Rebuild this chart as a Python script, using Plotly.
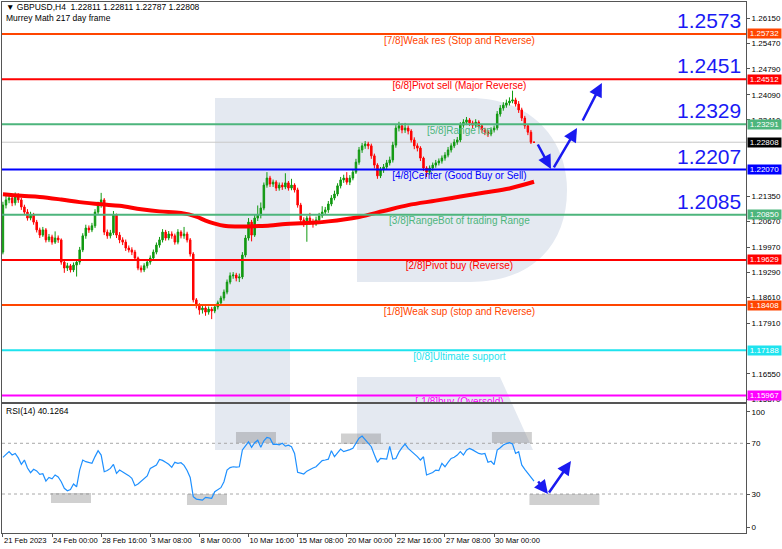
import plotly.graph_objects as go

# ---------------- data ----------------
title_text = "▼ GBPUSD,H4  1.22811 1.22811 1.22787 1.22808"
indicator_text = "Murrey Math 217 day frame"
rsi_title = "RSI(14) 40.1264"

x_tick_idx = [0, 16, 32, 48, 64, 80, 96, 112, 128, 144, 160]
x_tick_labels = ["21 Feb 2023", "24 Feb 00:00", "28 Feb 16:00", "3 Mar 08:00", "8 Mar 00:00",
                 "10 Mar 16:00", "15 Mar 08:00", "20 Mar 00:00", "22 Mar 16:00", "27 Mar 08:00",
                 "30 Mar 00:00"]

price_ticks = [1.26150, 1.25470, 1.24790, 1.24090, 1.23410, 1.21350, 1.20670, 1.19970,
               1.19290, 1.18610, 1.17910, 1.16550, 1.15870]
rsi_tick_vals = [94.7, 70, 30, 3.9]
rsi_tick_text = ["100", "70", "30", "0"]

open_ = [
1.1984,1.2111,1.2125,1.2130,1.2117,1.2136,1.2125,1.2106,1.2092,1.2076,
1.2084,1.2065,1.2044,1.2030,1.2044,1.2017,1.2025,1.2011,1.2022,1.2017,
1.1957,1.1941,1.1947,1.1936,1.1949,1.1957,1.1990,1.2028,1.2049,1.2044,
1.2055,1.2092,1.2111,1.2125,1.2038,1.2028,1.2036,1.2084,1.2030,1.2017,
1.2011,1.1995,1.1990,1.1984,1.1968,1.1941,1.1936,1.1947,1.1957,1.1968,
1.1984,1.2003,1.2017,1.2038,1.2022,1.2033,1.2028,1.2011,1.2038,1.2028,
1.2033,1.2017,1.1979,1.1855,1.1841,1.1828,1.1833,1.1822,1.1830,1.1825,
1.1836,1.1847,1.1860,1.1876,1.1903,1.1920,1.1922,1.1914,1.1917,1.1976,
1.2022,1.2065,1.2030,1.2076,1.2084,1.2103,1.2165,1.2184,1.2168,1.2173,
1.2157,1.2165,1.2160,1.2171,1.2157,1.2165,1.2152,1.2111,1.2071,1.2060,
1.2076,1.2065,1.2060,1.2071,1.2082,1.2092,1.2098,1.2114,1.2130,1.2141,
1.2163,1.2179,1.2184,1.2173,1.2184,1.2200,1.2227,1.2260,1.2271,1.2276,
1.2271,1.2244,1.2219,1.2190,1.2206,1.2214,1.2225,1.2233,1.2273,1.2319,
1.2325,1.2314,1.2319,1.2311,1.2287,1.2271,1.2265,1.2238,1.2211,1.2200,
1.2211,1.2219,1.2225,1.2230,1.2238,1.2246,1.2260,1.2271,1.2281,1.2287,
1.2327,1.2335,1.2341,1.2333,1.2327,1.2335,1.2325,1.2314,1.2308,1.2303,
1.2314,1.2319,1.2357,1.2373,1.2381,1.2387,1.2392,1.2395,1.2384,1.2368,
1.2346,1.2325,1.2308,1.22811]

high = [
1.2120,1.2138,1.2142,1.2139,1.2145,1.2143,1.2131,1.2112,1.2100,1.2093,
1.2090,1.2071,1.2050,1.2052,1.2049,1.2033,1.2031,1.2040,1.2029,1.2021,
1.1963,1.1955,1.1952,1.1956,1.1963,1.1998,1.2035,1.2058,1.2056,1.2063,
1.2100,1.2120,1.2144,1.2130,1.2045,1.2044,1.2095,1.2088,1.2038,1.2024,
1.2018,1.2002,1.1997,1.1990,1.1972,1.1948,1.1954,1.1964,1.1975,1.1991,
1.2010,1.2025,1.2046,1.2044,1.2041,1.2040,1.2034,1.2046,1.2043,1.2052,
1.2039,1.2022,1.1984,1.1860,1.1846,1.1840,1.1838,1.1837,1.1836,1.1843,
1.1853,1.1866,1.1883,1.1910,1.1929,1.1930,1.1928,1.1926,1.1984,1.2030,
1.2076,1.2071,1.2085,1.2110,1.2118,1.2172,1.2200,1.2190,1.2180,1.2178,
1.2172,1.2172,1.2197,1.2176,1.2182,1.2170,1.2158,1.2117,1.2078,1.2082,
1.2090,1.2074,1.2080,1.2090,1.2108,1.2106,1.2122,1.2138,1.2150,1.2170,
1.2187,1.2193,1.2200,1.2192,1.2208,1.2236,1.2268,1.2279,1.2284,1.2282,
1.2277,1.2250,1.2224,1.2214,1.2222,1.2233,1.2242,1.2282,1.2327,1.2336,
1.2332,1.2333,1.2326,1.2316,1.2294,1.2278,1.2270,1.2242,1.2216,1.2218,
1.2226,1.2233,1.2237,1.2245,1.2254,1.2268,1.2278,1.2289,1.2295,1.2335,
1.2343,1.2349,1.2346,1.2339,1.2343,1.2340,1.2330,1.2320,1.2314,1.2321,
1.2326,1.2365,1.2381,1.2389,1.2396,1.2402,1.2420,1.2401,1.2392,1.2374,
1.2352,1.2330,1.2314,1.22811]

low = [
1.1978,1.2102,1.2116,1.2108,1.2110,1.2117,1.2098,1.2084,1.2069,1.2070,
1.2058,1.2037,1.2022,1.2025,1.2010,1.2011,1.2004,1.2006,1.2009,1.1950,
1.1928,1.1933,1.1929,1.1930,1.1918,1.1950,1.1984,1.2020,1.2036,1.2038,
1.2049,1.2085,1.2104,1.2030,1.2020,1.2021,1.2030,1.2022,1.2008,1.2003,
1.1987,1.1983,1.1976,1.1960,1.1935,1.1929,1.1930,1.1940,1.1950,1.1962,
1.1978,1.1996,1.2010,1.2015,1.2016,1.2020,1.2004,1.2005,1.2021,1.2020,
1.2010,1.1972,1.1848,1.1832,1.1815,1.1818,1.1812,1.1815,1.1803,1.1819,
1.1829,1.1840,1.1853,1.1870,1.1897,1.1912,1.1905,1.1903,1.1911,1.1970,
1.2015,1.2013,1.2025,1.2068,1.2075,1.2097,1.2158,1.2160,1.2160,1.2149,
1.2150,1.2152,1.2154,1.2150,1.2151,1.2145,1.2104,1.2063,1.2052,1.2012,
1.2058,1.2050,1.2055,1.2064,1.2076,1.2086,1.2090,1.2108,1.2124,1.2135,
1.2156,1.2171,1.2166,1.2165,1.2178,1.2195,1.2220,1.2252,1.2263,1.2262,
1.2236,1.2210,1.2182,1.2184,1.2198,1.2207,1.2218,1.2226,1.2266,1.2310,
1.2305,1.2306,1.2302,1.2280,1.2262,1.2256,1.2230,1.2203,1.2187,1.2193,
1.2204,1.2212,1.2218,1.2223,1.2231,1.2240,1.2253,1.2265,1.2274,1.2281,
1.2320,1.2327,1.2325,1.2318,1.2320,1.2318,1.2306,1.2300,1.2295,1.2297,
1.2307,1.2313,1.2350,1.2366,1.2374,1.2380,1.2386,1.2377,1.2360,1.2338,
1.2317,1.2300,1.2276,1.22787]

close = [
1.2111,1.2125,1.2130,1.2117,1.2136,1.2125,1.2106,1.2092,1.2076,1.2084,
1.2065,1.2044,1.2030,1.2044,1.2017,1.2025,1.2011,1.2022,1.2017,1.1957,
1.1941,1.1947,1.1936,1.1949,1.1957,1.1990,1.2028,1.2049,1.2044,1.2055,
1.2092,1.2111,1.2125,1.2038,1.2028,1.2036,1.2084,1.2030,1.2017,1.2011,
1.1995,1.1990,1.1984,1.1968,1.1941,1.1936,1.1947,1.1957,1.1968,1.1984,
1.2003,1.2017,1.2038,1.2022,1.2033,1.2028,1.2011,1.2038,1.2028,1.2033,
1.2017,1.1979,1.1855,1.1841,1.1828,1.1833,1.1822,1.1830,1.1825,1.1836,
1.1847,1.1860,1.1876,1.1903,1.1920,1.1922,1.1914,1.1917,1.1976,1.2022,
1.2065,1.2030,1.2076,1.2084,1.2103,1.2165,1.2184,1.2168,1.2173,1.2157,
1.2165,1.2160,1.2171,1.2157,1.2165,1.2152,1.2111,1.2071,1.2060,1.2076,
1.2065,1.2060,1.2071,1.2082,1.2092,1.2098,1.2114,1.2130,1.2141,1.2163,
1.2179,1.2184,1.2173,1.2184,1.2200,1.2227,1.2260,1.2271,1.2276,1.2271,
1.2244,1.2219,1.2190,1.2206,1.2214,1.2225,1.2233,1.2273,1.2319,1.2325,
1.2314,1.2319,1.2311,1.2287,1.2271,1.2265,1.2238,1.2211,1.2200,1.2211,
1.2219,1.2225,1.2230,1.2238,1.2246,1.2260,1.2271,1.2281,1.2287,1.2327,
1.2335,1.2341,1.2333,1.2327,1.2335,1.2325,1.2314,1.2308,1.2303,1.2314,
1.2319,1.2357,1.2373,1.2381,1.2387,1.2392,1.2395,1.2384,1.2368,1.2346,
1.2325,1.2308,1.2281,1.22808]

ma_idx = [0, 6, 12, 19, 25, 32, 38, 45, 51, 58, 63, 66, 69, 72, 76, 79, 82, 87, 92, 97,
          102, 106, 111, 116, 124, 132, 141, 149, 157, 165, 173]
ma_val = [1.2140, 1.2136, 1.2133, 1.2126, 1.2119, 1.2113, 1.2109, 1.2100, 1.2094, 1.2090,
          1.2080, 1.2069, 1.2061, 1.2055, 1.2053, 1.2053, 1.2054, 1.2056, 1.2060, 1.2062,
          1.2064, 1.2067, 1.2072, 1.2079, 1.2095, 1.2111, 1.2123, 1.2134, 1.2145, 1.2156,
          1.2174]

rsi = [
58.9,61.5,63.4,60.8,62.0,58.5,53.4,56.8,50.5,46.8,
49.5,48.2,45.5,46.0,40.2,43.1,42.0,45.0,43.5,39.7,
34.5,32.6,33.5,37.9,35.7,48.9,56.8,55.5,54.8,54.2,
59.5,64.2,60.7,47.6,48.5,50.2,53.4,46.3,48.9,47.5,
46.3,44.5,42.4,36.5,37.9,40.0,42.4,44.2,50.2,51.5,
52.9,57.3,56.5,55.0,53.5,51.0,55.0,54.2,54.7,52.6,
48.5,43.1,27.9,26.0,25.5,25.2,27.4,26.8,26.6,31.8,
33.1,35.0,39.7,48.9,50.8,51.5,51.2,51.5,64.7,68.5,
71.2,66.8,70.5,72.4,66.8,72.0,74.7,74.0,69.2,69.4,
68.8,70.0,67.8,68.5,67.3,62.0,47.1,46.5,45.8,48.0,
49.5,50.5,51.5,54.0,56.3,56.8,57.5,64.2,59.4,62.5,
65.5,63.4,64.0,65.0,66.0,70.5,74.0,75.7,72.6,70.0,
67.3,61.0,55.0,58.1,57.8,57.5,67.6,57.5,58.0,63.0,
66.5,69.4,66.0,64.0,62.0,59.5,56.8,59.4,45.0,45.8,
47.0,48.9,48.5,54.2,51.5,55.0,58.1,59.0,60.7,63.4,
60.7,64.5,66.0,64.8,63.4,62.0,61.5,62.0,55.0,55.8,
53.1,64.7,66.5,68.6,69.8,70.5,69.4,62.0,63.4,52.9,
49.5,46.3,43.0,40.13]

levels = [1.25732, 1.24512, 1.23291, 1.22070, 1.20850, 1.19629, 1.18408, 1.17188, 1.15967]
level_labels = ["[7/8]Weak res (Stop and Reverse)", "[6/8]Pivot sell (Major Reverse)",
                "[5/8]RangeTop", "[4/8]Center (Good Buy or Sell)",
                "[3/8]RangeBot of trading Range", "[2/8]Pivot buy (Reverse)",
                "[1/8]Weak sup (stop and Reverse)", "[0/8]Ultimate support",
                "[-1/8]buy (Oversold)"]
level_colors = ["#FF4500", "#FF0000", "#4DB57C", "#0000FF", "#4DB57C", "#FF0000",
                "#FF4500", "#1EE3EE", "#FF00FF"]
big_levels = [1.2573, 1.2451, 1.2329, 1.2207, 1.2085]
current_price = 1.22808

# forecast arrows (bar index / price) and RSI arrows (bar index / RSI value)
arrow_from_idx = [173.97, 179.18, 188.6]
arrow_from_px = [1.22788, 1.22086, 1.23355]
arrow_to_idx = [178.53, 187.0, 195.1]
arrow_to_px = [1.22086, 1.23193, 1.24408]
rsi_arrow_from_idx = [173.97, 177.55]
rsi_arrow_from_val = [41.0, 30.0]
rsi_arrow_to_idx = [177.55, 185.04]
rsi_arrow_to_val = [30.0, 56.0]

# highlight boxes on RSI (bar index range, RSI range)
box_x0 = [15.66, 59.96, 75.92, 110.12, 159.3, 171.5]
box_x1 = [28.69, 72.99, 88.95, 123.15, 172.3, 194.3]
box_y0 = [22.9, 21.3, 70.2, 69.4, 70.2, 21.3]
box_y1 = [30.8, 30.0, 78.9, 77.7, 78.9, 30.0]

# ---------------- figure ----------------
W, H = 782, 549
ML, MR, MT, MB = 2, 36, 2, 16
PW = W - ML - MR
PH = H - MT - MB
FONT = "Liberation Sans, Arial, sans-serif"


def pxx(x):
    return (x - ML) / PW


def pxy(y):
    return (H - MB - y) / PH


n = len(close)
idx = list(range(n))
fig = go.Figure()

# level captions (drawn first so candles overlay them)
fig.add_trace(go.Scatter(
    x=[148.7] * len(levels), y=[lv - 0.0019 for lv in levels], mode="text",
    text=level_labels, textposition="middle center",
    textfont=dict(color=level_colors, size=10, family=FONT),
    xaxis="x", yaxis="y", hoverinfo="skip", showlegend=False, cliponaxis=True))

fig.add_trace(go.Candlestick(
    x=idx, open=open_, high=high, low=low, close=close,
    increasing=dict(line=dict(color="#119911", width=1), fillcolor="#119911"),
    decreasing=dict(line=dict(color="#FF0000", width=1), fillcolor="#FF0000"),
    whiskerwidth=0, xaxis="x", yaxis="y", showlegend=False, hoverinfo="skip"))

fig.add_trace(go.Scatter(
    x=ma_idx, y=ma_val, mode="lines", line=dict(color="#FF0000", width=4, shape="spline"),
    xaxis="x", yaxis="y", showlegend=False, hoverinfo="skip"))

fig.add_trace(go.Scatter(
    x=idx, y=rsi, mode="lines", line=dict(color="#1E90FF", width=1.2),
    xaxis="x2", yaxis="y2", showlegend=False, hoverinfo="skip"))

shapes = []
# watermark "R" (pixel geometry converted to paper)
wm = "#E4E9F1"
shapes.append(dict(type="rect", xref="paper", yref="paper", x0=pxx(215), x1=pxx(290),
                   y0=pxy(450), y1=pxy(98), fillcolor=wm, line=dict(width=0), layer="below"))
shapes.append(dict(type="rect", xref="paper", yref="paper", x0=pxx(289), x1=pxx(358),
                   y0=pxy(170), y1=pxy(98), fillcolor=wm, line=dict(width=0), layer="below"))


def P(x, y):
    return f"{pxx(x):.5f},{pxy(y):.5f}"


bowl = (f"M {P(357,98)} L {P(470,98)} C {P(532,98)} {P(567,140)} {P(567,190)} "
        f"C {P(567,245)} {P(532,282)} {P(470,282)} L {P(357,282)} Z")
leg = f"M {P(357,377)} L {P(500,377)} L {P(533,450)} L {P(357,450)} Z"
for pth in (bowl, leg):
    shapes.append(dict(type="path", xref="paper", yref="paper", path=pth, fillcolor=wm,
                       line=dict(width=0), layer="below"))

for a0, a1, b0, b1 in zip(box_x0, box_x1, box_y0, box_y1):
    shapes.append(dict(type="rect", xref="x2", yref="y2", x0=a0, x1=a1, y0=b0, y1=b1,
                       fillcolor="rgba(120,120,120,0.35)", line=dict(width=0), layer="below"))

for v in (70, 30):
    shapes.append(dict(type="line", xref="x2 domain", yref="y2", x0=0, x1=1, y0=v, y1=v,
                       line=dict(color="#A8A8A8", width=1, dash="dot"), layer="below"))

shapes.append(dict(type="line", xref="x domain", yref="y", x0=0, x1=1, y0=current_price,
                   y1=current_price, line=dict(color="#C8C8C8", width=1), layer="below"))
for lv, col in zip(levels, level_colors):
    shapes.append(dict(type="line", xref="x domain", yref="y", x0=0, x1=1, y0=lv, y1=lv,
                       line=dict(color=col, width=2), layer="above"))

annotations = []
annotations.append(dict(xref="paper", yref="paper", x=pxx(4), y=pxy(7), xanchor="left",
                        yanchor="middle", text=title_text, showarrow=False,
                        font=dict(size=8.5, color="#000000", family=FONT)))
annotations.append(dict(xref="paper", yref="paper", x=pxx(4), y=pxy(18), xanchor="left",
                        yanchor="middle", text=indicator_text, showarrow=False,
                        font=dict(size=8.5, color="#000000", family=FONT)))
annotations.append(dict(xref="paper", yref="paper", x=pxx(4), y=pxy(411), xanchor="left",
                        yanchor="middle", text=rsi_title, showarrow=False,
                        font=dict(size=8.5, color="#000000", family=FONT)))

for bl in big_levels:
    annotations.append(dict(xref="paper", yref="y", x=pxx(743), y=bl, xanchor="right",
                            yanchor="bottom", text=f"{bl:.4f}", showarrow=False,
                            font=dict(size=21, color="#1A1AF5", family=FONT)))

tag_vals = levels + [current_price]
tag_cols = level_colors + ["#000000"]
for tv, tc in zip(tag_vals, tag_cols):
    annotations.append(dict(xref="paper", yref="y", x=1.0, y=tv, xanchor="left",
                            yanchor="middle", xshift=1, text=f"{tv:.5f}", showarrow=False,
                            bgcolor=tc, width=33, height=9, borderpad=0, align="center",
                            font=dict(size=8, color="#FFFFFF", family=FONT)))

for fx, fy, tx, ty in zip(arrow_from_idx, arrow_from_px, arrow_to_idx, arrow_to_px):
    annotations.append(dict(xref="x", yref="y", axref="x", ayref="y", x=tx, y=ty, ax=fx, ay=fy,
                            text="", showarrow=True, arrowhead=2, arrowsize=1.1, arrowwidth=2.5,
                            arrowcolor="#1A1AF0", standoff=0, startstandoff=0))
for fx, fy, tx, ty in zip(rsi_arrow_from_idx, rsi_arrow_from_val, rsi_arrow_to_idx, rsi_arrow_to_val):
    annotations.append(dict(xref="x2", yref="y2", axref="x2", ayref="y2", x=tx, y=ty, ax=fx,
                            ay=fy, text="", showarrow=True, arrowhead=2, arrowsize=1.1,
                            arrowwidth=2.5, arrowcolor="#1A1AF0", standoff=0, startstandoff=0))

x_range = [-0.3, 242.05]
y_range = [1.15791, 1.26596]
axis_line = "#555555"

fig.update_layout(
    width=W, height=H,
    margin=dict(l=ML, r=MR, t=MT, b=MB, autoexpand=False),
    paper_bgcolor="#FFFFFF", plot_bgcolor="rgba(0,0,0,0)",
    showlegend=False,
    font=dict(family=FONT, size=8, color="#000000"),
    xaxis=dict(domain=[0, 1], anchor="y", range=x_range, showticklabels=False,
               showgrid=False, zeroline=False, showline=True, mirror=True, automargin=False,
               linecolor=axis_line, linewidth=1, rangeslider=dict(visible=False), ticks=""),
    xaxis2=dict(domain=[0, 1], anchor="y2", range=x_range, matches="x", automargin=False,
                tickmode="array", tickvals=x_tick_idx, ticktext=x_tick_labels, tickangle=0,
                ticklabelposition="outside right", ticks="outside", ticklen=3,
                tickcolor=axis_line, tickfont=dict(size=7.6, family=FONT, color="#000000"),
                showgrid=False, zeroline=False, showline=True, mirror=True,
                linecolor=axis_line, linewidth=1),
    yaxis=dict(domain=[pxy(402), 1], anchor="x", range=y_range, side="right", automargin=False,
               tickmode="array", tickvals=price_ticks,
               ticktext=[f"{t:.5f}" for t in price_ticks], ticks="outside", ticklen=3,
               tickcolor=axis_line, tickfont=dict(size=8, family=FONT, color="#000000"),
               showgrid=False, zeroline=False, showline=True, mirror=True,
               linecolor=axis_line, linewidth=1),
    yaxis2=dict(domain=[0, pxy(404)], anchor="x2", range=[-0.77, 101.0], side="right",
                automargin=False,
                tickmode="array", tickvals=rsi_tick_vals, ticktext=rsi_tick_text,
                ticks="outside", ticklen=3, tickcolor=axis_line,
                tickfont=dict(size=8, family=FONT, color="#000000"),
                showgrid=False, zeroline=False, showline=True, mirror=True,
                linecolor=axis_line, linewidth=1),
    shapes=shapes,
    annotations=annotations,
)

fig.write_html("out.html", config={"displayModeBar": False},
               post_script="document.body.style.margin='0px';document.body.style.overflow='hidden';")
